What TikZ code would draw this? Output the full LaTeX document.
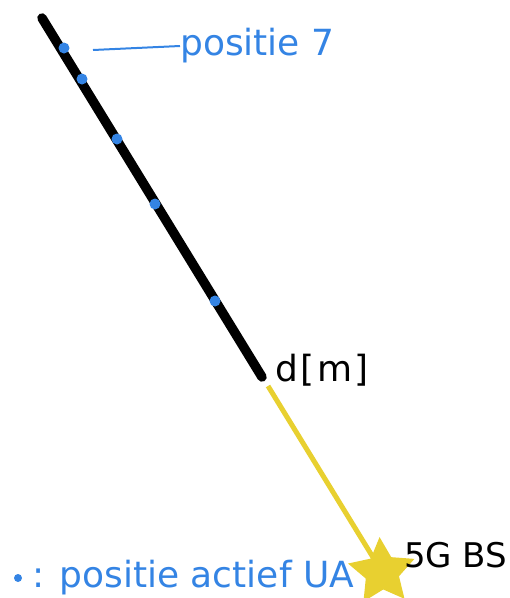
\documentclass[tikz,border=0pt]{standalone}
\usepackage{fontspec}
\setmainfont{DejaVu Sans}
\usetikzlibrary{shapes.geometric}
\definecolor{ublue}{RGB}{52,132,228}
\definecolor{byellow}{RGB}{232,208,48}
\tikzset{
  uadot/.style={circle,fill=ublue,inner sep=0pt,minimum size=11pt},
  bluetxt/.style={text=ublue,font=\fontsize{36}{40}\selectfont,inner sep=0pt},
  blacktxt/.style={text=black,font=\fontsize{36}{40}\selectfont,inner sep=0pt},
  bsstar/.style={star,star points=5,star point ratio=2.0,fill=byellow,inner sep=0pt,minimum size=70pt,rotate=4},
}
\begin{document}
\begin{tikzpicture}[x=1pt,y=-1pt]
\useasboundingbox (0,0) rectangle (510,598);
\coordinate (top) at (42,18);
\coordinate (mid) at (262,377);
\draw[line width=9.5pt,line cap=round] (top) -- (mid);
\node[uadot] (p7) at (64,48) {};
\node[uadot] (p6) at (82,79) {};
\node[uadot] (p5) at (117,139) {};
\node[uadot] (p4) at (155,204) {};
\node[uadot] (p3) at (215,301) {};
\node[bluetxt,anchor=west] (lab7) at (180,46) {positie 7};
\coordinate (lead) at (93,50);
\draw[ublue,line width=2pt] (lab7.west) -- (lead);
\node[blacktxt,anchor=west] (dm) at (275,370) {d\kern2.5pt[\kern2.5pt m\kern2.5pt]};
\coordinate (bsc) at (382,572);
\draw[byellow,line width=5pt] (268,386) -- (bsc);
\node[bsstar] (bs) at (bsc) {};
\node[blacktxt,anchor=west,font=\fontsize{34}{38}\selectfont] (bslab) at (404,555) {5G BS};
\node[uadot,minimum size=8pt] (legdot) at (18,578) {};
\node[bluetxt,anchor=west] (leg) at (32,578) {: positie actief UA};
\end{tikzpicture}
\end{document}
